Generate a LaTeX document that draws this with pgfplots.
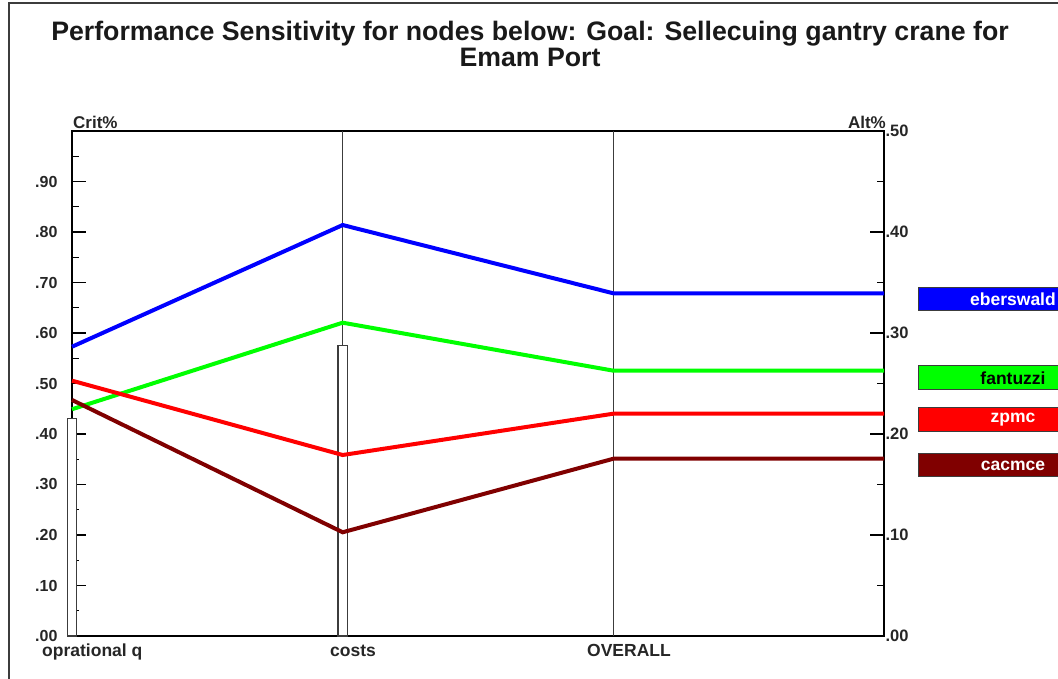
\documentclass[border=0pt]{standalone}
\usepackage{pgfplots}
\pgfplotsset{compat=1.18}
\usepackage{fontspec}
\setmainfont{Liberation Sans}
\definecolor{ecblue}{RGB}{0,0,255}
\definecolor{ecgreen}{RGB}{0,255,0}
\definecolor{ecred}{RGB}{255,0,0}
\definecolor{ecmaroon}{RGB}{128,0,0}
\definecolor{axgray}{RGB}{60,60,60}
\begin{document}
\begin{tikzpicture}[x=1pt,y=1pt]
\useasboundingbox (0,0) rectangle (1058,679);
\draw[axgray, line width=1.5pt] (9,0) -- (9,676) -- (1058,676);
\node[font=\bfseries\fontsize{26.7}{26}\selectfont, align=center, text=black!90] at (530,635) {Performance Sensitivity for nodes below: Goal: Sellecuing gantry crane for\\Emam Port};
% left axis: criteria weights
\begin{axis}[at={(72pt,43pt)}, anchor=south west, scale only axis,
  width=812pt, height=505pt, xmin=0, xmax=3, ymin=0, ymax=1, clip=false,
  axis line style={black, line width=1.5pt},
  ytick={0,0.1,0.2,0.3,0.4,0.5,0.6,0.7,0.8,0.9},
  yticklabels={.00,.10,.20,.30,.40,.50,.60,.70,.80,.90},
  minor ytick={0.05,0.15,0.25,0.35,0.45,0.55,0.65,0.75,0.85,0.95},
  ytick pos=left, tick align=inside,
  major tick length=14pt, minor tick length=7pt,
  tick style={black, line width=1.2pt},
  yticklabel style={font=\bfseries\fontsize{16}{16}\selectfont, text=black!85, xshift=-11pt},
  xtick=\empty, extra x ticks={1,2}, extra x tick labels={},
  extra x tick style={grid=major, major tick length=0pt},
  major grid style={axgray, line width=1.5pt},
]
\addplot[ybar, bar shift=0pt, bar width=9.5pt, fill=white, draw=axgray, line width=1.2pt] coordinates {(0,0.43) (1,0.576)};
\end{axis}
% right axis: alternatives
\begin{axis}[at={(72pt,43pt)}, anchor=south west, scale only axis,
  width=812pt, height=505pt, xmin=0, xmax=3, ymin=0, ymax=0.5, clip=false,
  axis x line=none, axis y line*=right,
  axis line style={black, line width=1.5pt},
  ytick={0,0.1,0.2,0.3,0.4,0.5},
  yticklabels={.00,.10,.20,.30,.40,.50},
  minor ytick={0.05,0.15,0.25,0.35,0.45},
  tick align=inside,
  major tick length=14pt, minor tick length=7pt,
  tick style={black, line width=1.2pt},
  yticklabel style={font=\bfseries\fontsize{16.5}{16.5}\selectfont, text=black!85, xshift=-2pt},
]
\addplot[ecblue, line width=4pt] coordinates {(0,0.2864) (1,0.4069) (2,0.3393) (3,0.3393)};
\addplot[ecgreen, line width=4pt] coordinates {(0,0.2245) (1,0.3102) (2,0.2627) (3,0.2627)};
\addplot[ecred, line width=4pt] coordinates {(0,0.2528) (1,0.1792) (2,0.2201) (3,0.2201)};
\addplot[ecmaroon, line width=4pt] coordinates {(0,0.2337) (1,0.1027) (2,0.1755) (3,0.1755)};
\end{axis}
\node[anchor=base west, inner sep=0pt, font=\bfseries\fontsize{17}{17}\selectfont, text=black!85] at (73,550) {Crit\%};
\node[anchor=base east, inner sep=0pt, font=\bfseries\fontsize{17}{17}\selectfont, text=black!85] at (886,550) {Alt\%};
\node[anchor=base west, inner sep=0pt, font=\bfseries\fontsize{17.5}{17.5}\selectfont, text=black!85] at (42,22.5) {oprational q};
\node[anchor=base west, inner sep=0pt, font=\bfseries\fontsize{17.5}{17.5}\selectfont, text=black!85] at (330,22.5) {costs};
\node[anchor=base west, inner sep=0pt, font=\bfseries\fontsize{17.5}{17.5}\selectfont, text=black!85] at (587,22.5) {OVERALL};
% legend
\fill[ecblue] (918,368) rectangle (1058,391);
\draw[axgray, line width=1pt] (1058,368) -- (918,368) -- (918,391) -- (1058,391);
\node[font=\bfseries\fontsize{17.5}{17.5}\selectfont, text=white] at (1013,379.5) {eberswald};
\fill[ecgreen] (918,289) rectangle (1058,313);
\draw[axgray, line width=1pt] (1058,289) -- (918,289) -- (918,313) -- (1058,313);
\node[font=\bfseries\fontsize{17.5}{17.5}\selectfont, text=black] at (1013,301) {fantuzzi};
\fill[ecred] (918,247) rectangle (1058,271);
\draw[axgray, line width=1pt] (1058,247) -- (918,247) -- (918,271) -- (1058,271);
\node[font=\bfseries\fontsize{17.5}{17.5}\selectfont, text=white] at (1013,259) {zpmc};
\fill[ecmaroon] (918,202) rectangle (1058,225);
\draw[axgray, line width=1pt] (1058,202) -- (918,202) -- (918,225) -- (1058,225);
\node[font=\bfseries\fontsize{17.5}{17.5}\selectfont, text=white] at (1013,213.5) {cacmce};
\end{tikzpicture}
\end{document}
